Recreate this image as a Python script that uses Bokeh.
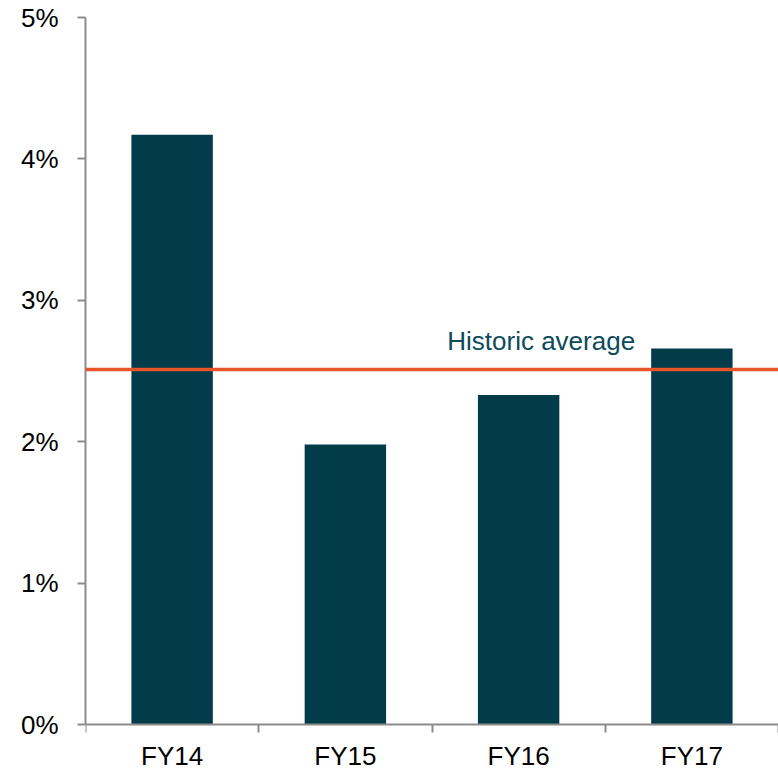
from bokeh.plotting import figure
from bokeh.models import Range1d, FixedTicker, PrintfTickFormatter, Span, Label
from bokeh.embed import file_html
from bokeh.resources import INLINE

# Data (percent)
categories = ["FY14", "FY15", "FY16", "FY17"]
values = [4.17, 1.98, 2.33, 2.66]
historic_average = 2.51
avg_label = "Historic average"
y_ticks = [0, 1, 2, 3, 4, 5]

BAR = "#023C4A"
ORANGE = "#E8552A"
TEXT_TEAL = "#0D4A5A"
AXIS = "#8C8C8C"
FONT = "Liberation Sans"
FS = "26px"

# frame extends below zero so the category axis (fixed at 0) has room for its labels
p = figure(width=778, height=770, output_backend="svg", toolbar_location=None,
           x_range=Range1d(0, len(categories)), y_range=Range1d(-0.3253, 5),
           min_border_left=85, min_border_right=0, min_border_top=17, min_border_bottom=0)
p.outline_line_color = None
p.xgrid.visible = False
p.ygrid.visible = False
p.background_fill_color = "white"
p.border_fill_color = "white"

xs = [i + 0.5 for i in range(len(categories))]
p.vbar(x=xs, top=values, width=0.47, bottom=0, fill_color=BAR, line_color=None)

avg = Span(location=historic_average, dimension="width", line_color=ORANGE, line_width=3.5)
p.add_layout(avg)
p.add_layout(Label(x=2.088, y=2.714, text=avg_label, text_color=TEXT_TEAL,
                   text_font=FONT, text_font_size=FS, text_baseline="alphabetic",
                   text_align="left"))

# x axis: drawn at y = 0, ticks at category boundaries, names centred
xa = p.xaxis[0]
xa.fixed_location = 0
xa.ticker = FixedTicker(ticks=xs, minor_ticks=list(range(len(categories) + 1)))
xa.major_label_overrides = {x: c for x, c in zip(xs, categories)}
xa.major_tick_out = 0
xa.major_tick_in = 0
xa.minor_tick_out = 8
xa.minor_tick_in = 0
xa.minor_tick_line_color = AXIS
xa.minor_tick_line_width = 2
xa.axis_line_color = AXIS
xa.axis_line_width = 2
xa.major_label_standoff = 8
xa.major_label_text_font = FONT
xa.major_label_text_font_size = FS
xa.major_label_text_color = "black"

ya = p.yaxis[0]
ya.bounds = (0, 5)
ya.ticker = FixedTicker(ticks=y_ticks, minor_ticks=[])
ya.formatter = PrintfTickFormatter(format="%d%%")
ya.major_tick_out = 8
ya.major_tick_in = 0
ya.major_tick_line_color = AXIS
ya.major_tick_line_width = 2
ya.axis_line_color = AXIS
ya.axis_line_width = 2
ya.major_label_standoff = 19
ya.major_label_text_font = FONT
ya.major_label_text_font_size = FS
ya.major_label_text_color = "black"

open("out.html", "w").write(file_html(p, INLINE))
